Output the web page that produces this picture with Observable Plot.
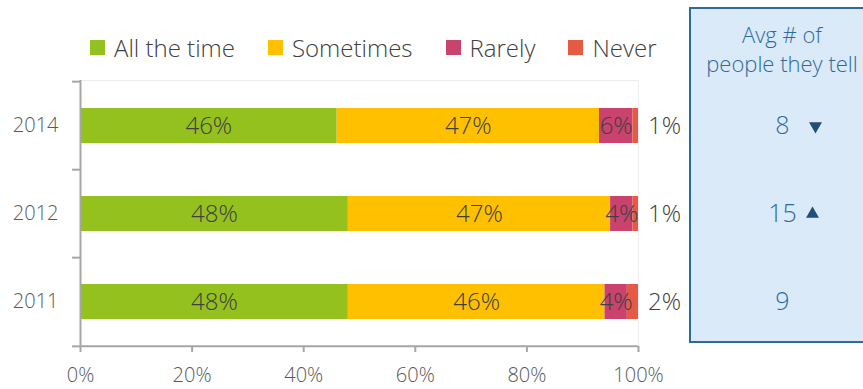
<!DOCTYPE html>
<html>
<head>
<meta charset="utf-8">
<script src="https://cdn.jsdelivr.net/npm/d3@7"></script>
<script src="https://cdn.jsdelivr.net/npm/@observablehq/plot@0.6"></script>
<style>
  html, body { margin: 0; padding: 0; background: #fff; }
  #wrap { position: relative; width: 863px; height: 389px; overflow: hidden; font-family: "Open Sans", sans-serif; font-weight: 300; }
  #panel { position: absolute; left: 689px; top: 7px; width: 190px; height: 336px; border: 2px solid #2e6a9e; background: #daeaf8; box-sizing: border-box; }
  #ptitle { position: absolute; left: 689px; width: 186px; top: 20px; text-align: center; color: #2e6a9e; font-size: 22px; line-height: 29px; white-space: nowrap; }
  #chart { position: absolute; left: 0; top: 0; }
  #legend { position: absolute; left: 90px; top: 31px; display: flex; align-items: center; font-size: 24px; color: #404040; white-space: nowrap; }
  .item { display: flex; align-items: center; margin-right: 33px; }
  .sw { width: 15px; height: 15px; margin-right: 9px; }
</style>
</head>
<body>
<div id="wrap">
  <div id="panel"></div>
  <div id="ptitle"></div>
  <div id="chart"></div>
  <div id="legend"></div>
</div>
<script>
const years = ["2014", "2012", "2011"];
const categories = ["All the time", "Sometimes", "Rarely", "Never"];
const colors = ["#95c11f", "#ffc000", "#c9436e", "#e65a45"];
const allTheTime = [46, 48, 48];
const sometimes = [47, 47, 46];
const rarely = [6, 4, 4];
const never = [1, 1, 2];
const avgTell = [8, 15, 9];
const trend = ["down", "up", null];
const xTicks = [0, 20, 40, 60, 80, 100];
const panelTitle = ["Avg # of", "people they tell"];

const series = [allTheTime, sometimes, rarely, never];
const rows = [];
years.forEach((y, i) => {
  categories.forEach((c, j) => rows.push({year: y, category: c, value: series[j][i]}));
});
const neverRows = years.map((y, i) => ({year: y, value: never[i]}));
const panelRows = years.map((y, i) => ({year: y, avg: avgTell[i], trend: trend[i]}));

const font = "'Open Sans', sans-serif";
const halfStep = (389 - 80 - 43) / years.length / 2;

const chart = Plot.plot({
  width: 863,
  height: 389,
  marginLeft: 80,
  marginRight: 225,
  marginTop: 80,
  marginBottom: 43,
  style: {background: "transparent", fontFamily: font, fontWeight: 300, overflow: "visible"},
  x: {domain: [0, 100], ticks: xTicks, label: null},
  y: {domain: years, paddingInner: 0.605, paddingOuter: 0.3025, label: null},
  color: {domain: categories, range: colors},
  marks: [
    Plot.frame({stroke: "#eeeeee"}),
    Plot.barX(rows, {x: "value", y: "year", fill: "category"}),
    Plot.textX(rows, Plot.stackX({x: "value", y: "year", text: d => d.category === "Never" ? "" : d.value + "%", fill: "#404040", fontSize: 24})),
    Plot.text(neverRows, {x: () => 100, y: "year", text: d => d.value + "%", dx: 26, fill: "#404040", fontSize: 24}),
    Plot.ruleX([0], {stroke: "#a6a6a6", strokeWidth: 2}),
    Plot.ruleY(["2011"], {y: d => d, x1: 0, x2: 100, dy: halfStep, stroke: "#a6a6a6", strokeWidth: 2}),
    Plot.axisY({tickSize: 8, text: null, dy: -halfStep, stroke: "#a6a6a6", strokeWidth: 2}),
    Plot.axisY(["2011"], {tickSize: 8, text: null, dy: halfStep, stroke: "#a6a6a6", strokeWidth: 2}),
    Plot.axisY({tickSize: 0, tickPadding: 22, fontSize: 20, fill: "#595959"}),
    Plot.axisX({ticks: xTicks, tickFormat: d => d + "%", tickSize: 6, tickPadding: 15, stroke: "#a6a6a6", strokeWidth: 2, fontSize: 20, fill: "#595959"}),
    Plot.text(panelRows, {x: () => 100, y: "year", text: d => String(d.avg), dx: 144, fill: "#2e6a9e", fontSize: 25}),
    Plot.dot(panelRows.filter(d => d.trend === "down"), {x: () => 100, y: "year", dx: 177, symbol: "triangle", rotate: 180, r: 4.8, fill: "#1f4e79", stroke: "none"}),
    Plot.dot(panelRows.filter(d => d.trend === "up"), {x: () => 100, y: "year", dx: 174, symbol: "triangle", r: 4.8, fill: "#1f4e79", stroke: "none"})
  ]
});
document.getElementById("chart").appendChild(chart);

document.getElementById("ptitle").innerHTML = panelTitle.join("<br>");
const legend = document.getElementById("legend");
categories.forEach((c, i) => {
  const it = document.createElement("div");
  it.className = "item";
  const sw = document.createElement("div");
  sw.className = "sw";
  sw.style.background = colors[i];
  const t = document.createElement("span");
  t.textContent = c;
  it.appendChild(sw);
  it.appendChild(t);
  legend.appendChild(it);
});
</script>
</body>
</html>
